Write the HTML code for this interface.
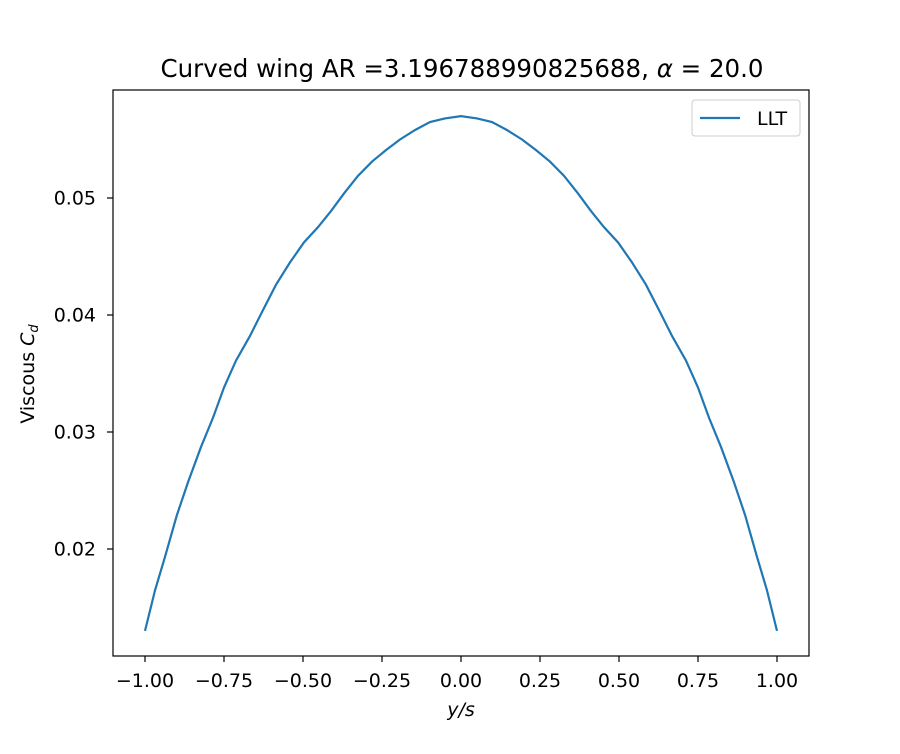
<!DOCTYPE html>
<html><head><meta charset="utf-8"><style>
body{margin:0;background:#fff;font-family:"DejaVu Sans","Liberation Sans",sans-serif;}
svg text{font-family:"DejaVu Sans","Liberation Sans",sans-serif;}
</style></head><body>
<svg id="c" width="900" height="750" xmlns="http://www.w3.org/2000/svg">
<rect width="900" height="750" fill="#fff"/>
<text x="462" y="77" font-size="24.5" text-anchor="middle">Curved wing AR =3.196788990825688, <tspan font-style="italic">α</tspan> = 20.0</text>
<g id="ticks"></g>
<path id="line" fill="none" stroke="#1f77b4" stroke-width="2.2"/>
<rect x="113" y="90" width="696" height="566" fill="none" stroke="#000" stroke-width="1.2"/>
<text x="461" y="716" font-size="19" text-anchor="middle" font-style="italic">y/s</text>
<text transform="translate(34,374) rotate(-90)" font-size="19" text-anchor="middle">Viscous <tspan font-style="italic">C</tspan><tspan font-style="italic" font-size="13" dy="4">d</tspan></text>
<g>
<rect x="692" y="100" width="108" height="36" rx="3" fill="#fff" stroke="#ccc"/>
<line x1="700" y1="118" x2="740" y2="118" stroke="#1f77b4" stroke-width="2.2"/>
<text x="757" y="125" font-size="19">LLT</text>
</g>
</svg>
<script>
const halfX=[-1.0,-0.968,-0.937,-0.899,-0.864,-0.823,-0.785,-0.750,-0.712,-0.668,-0.627,-0.585,-0.541,-0.497,-0.453,-0.411,-0.370,-0.326,-0.282,-0.237,-0.193,-0.146,-0.098,-0.051,0];
const halfY=[0.0130,0.0165,0.0193,0.0229,0.0257,0.0287,0.0312,0.0338,0.0361,0.0382,0.0404,0.0426,0.0445,0.0462,0.0475,0.0489,0.0504,0.0519,0.0531,0.0541,0.0550,0.0558,0.0565,0.0568,0.0570];
const xTicks=[-1,-0.75,-0.5,-0.25,0,0.25,0.5,0.75,1];
const yTicks=[0.02,0.03,0.04,0.05];
const xs=v=>461+v*316;
const ys=v=>198-(v-0.05)*11700;
const X=halfX.concat(halfX.slice(0,-1).reverse().map(v=>-v));
const Y=halfY.concat(halfY.slice(0,-1).reverse());
document.getElementById('line').setAttribute('d',X.map((x,i)=>(i?'L':'M')+xs(x).toFixed(1)+','+ys(Y[i]).toFixed(1)).join(''));
const g=document.getElementById('ticks');const NS='http://www.w3.org/2000/svg';
xTicks.forEach(t=>{const x=xs(t);
const l=document.createElementNS(NS,'line');l.setAttribute('x1',x);l.setAttribute('x2',x);l.setAttribute('y1',656);l.setAttribute('y2',662);l.setAttribute('stroke','#000');l.setAttribute('stroke-width','1.2');

g.appendChild(l);
const s=document.createElementNS(NS,'text');s.setAttribute('x',x);s.setAttribute('y',687);s.setAttribute('font-size','19');s.setAttribute('text-anchor','middle');s.textContent=t.toFixed(2).replace('-','−');

g.appendChild(s);});
yTicks.forEach(t=>{const y=ys(t);
const l=document.createElementNS(NS,'line');l.setAttribute('x1',107);l.setAttribute('x2',113);l.setAttribute('y1',y);l.setAttribute('y2',y);l.setAttribute('stroke','#000');l.setAttribute('stroke-width','1.2');

g.appendChild(l);
const s=document.createElementNS(NS,'text');s.setAttribute('x',96);s.setAttribute('y',y+6.5);s.setAttribute('font-size','19');s.setAttribute('text-anchor','end');s.textContent=t.toFixed(2);

g.appendChild(s);});
</script>
</body></html>
